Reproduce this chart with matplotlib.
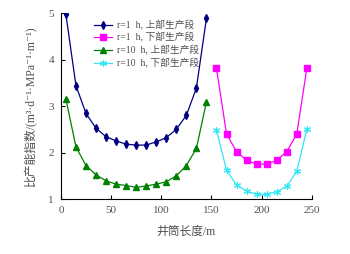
import matplotlib
matplotlib.use('Agg')
import matplotlib.pyplot as plt

plt.rcParams['font.family'] = ['Liberation Serif', 'Noto Sans CJK SC', 'DejaVu Serif']

# well length positions (m)
x_upper = [5, 15, 25, 35, 45, 55, 65, 75, 85, 95, 105, 115, 125, 135, 145]
x_lower = [155, 165, 175, 185, 195, 205, 215, 225, 235, 245]

# specific productivity index
r1_upper = [4.97, 3.44, 2.84, 2.52, 2.34, 2.25, 2.18, 2.16, 2.16, 2.23, 2.32, 2.50, 2.80, 3.39, 4.89]
r1_lower = [3.81, 2.40, 2.02, 1.83, 1.75, 1.75, 1.83, 2.02, 2.40, 3.81]
r10_upper = [3.15, 2.12, 1.72, 1.52, 1.39, 1.32, 1.29, 1.25, 1.28, 1.32, 1.37, 1.50, 1.72, 2.09, 3.09]
r10_lower = [2.48, 1.62, 1.30, 1.17, 1.10, 1.10, 1.16, 1.27, 1.60, 2.50]

labels = ['r=1  h, 上部生产段', 'r=1  h, 下部生产段',
          'r=10  h, 上部生产段', 'r=10  h, 下部生产段']

grey = '#505050'

fig = plt.figure(figsize=(3.5, 2.54), dpi=100)
ax = fig.add_axes([0.174, 0.2165, 0.717, 0.732])

ax.plot(x_upper, r1_upper, color='#000080', lw=0.9, marker='d', ms=4, label=labels[0])
ax.plot(x_lower, r1_lower, color='#ff00ff', lw=0.9, marker='s', ms=4, label=labels[1])
ax.plot(x_upper, r10_upper, color='#008000', lw=0.9, marker='^', ms=4, label=labels[2])
ax.plot(x_lower, r10_lower, color='#33e6f5', lw=0.9, marker=(6, 2, 0), ms=5, mew=0.8, label=labels[3])

ax.set_xlim(0, 250)
ax.set_ylim(1, 5)
ax.set_xticks([0, 50, 100, 150, 200, 250])
ax.set_yticks([1, 2, 3, 4, 5])
ax.spines['top'].set_visible(False)
ax.spines['right'].set_visible(False)
ax.tick_params(direction='in', length=3, width=0.8, labelsize=8, labelcolor=grey, pad=5)

ax.set_xlabel('井筒长度/m', fontsize=8.5, color=grey, labelpad=8)
ax.set_ylabel('比产能指数/(m³·d⁻¹·MPa⁻¹·m⁻¹)', fontsize=8.5, color=grey, labelpad=9)

leg = ax.legend(loc='upper left', bbox_to_anchor=(0.115, 0.985), frameon=False, fontsize=7,
                handlelength=1.9, handletextpad=0.5, labelspacing=0.25, borderaxespad=0)
for t in leg.get_texts():
    t.set_color(grey)

fig.savefig('out.png', dpi=100)
